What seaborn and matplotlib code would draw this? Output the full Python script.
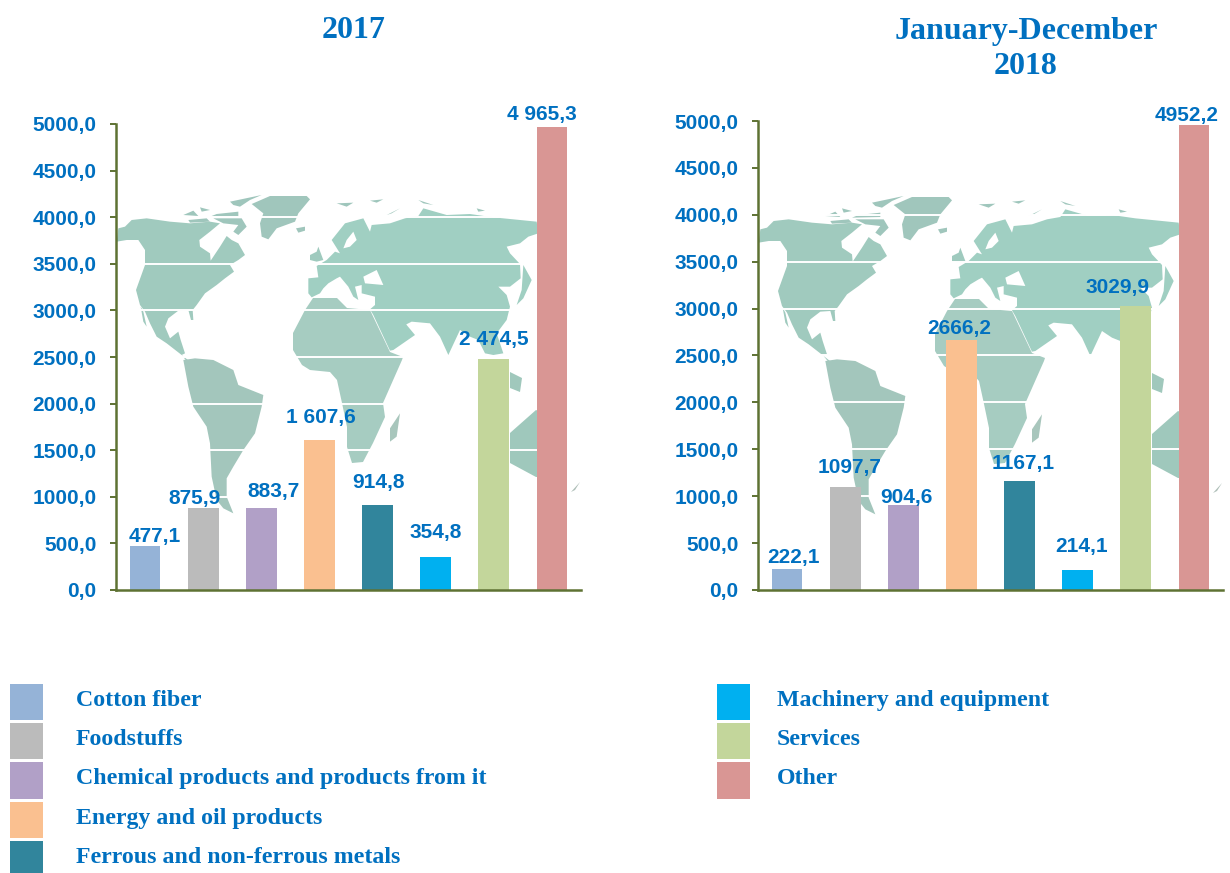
import matplotlib
matplotlib.use("Agg")
import matplotlib.pyplot as plt
from matplotlib.patches import Polygon, Rectangle
import pandas as pd
import seaborn as sns

categories = ["Cotton fiber", "Foodstuffs", "Chemical products and products from it",
              "Energy and oil products", "Ferrous and non-ferrous metals",
              "Machinery and equipment", "Services", "Other"]
colors = ["#95B3D7", "#BBBBBB", "#B1A0C7", "#FAC090", "#31859C", "#00B0F0", "#C3D69B", "#D99694"]

values_2017 = [477.1, 875.9, 883.7, 1607.6, 914.8, 354.8, 2474.5, 4965.3]
labels_2017 = ["477,1", "875,9", "883,7", "1 607,6", "914,8", "354,8", "2 474,5", "4 965,3"]
values_2018 = [222.1, 1097.7, 904.6, 2666.2, 1167.1, 214.1, 3029.9, 4952.2]
labels_2018 = ["222,1", "1097,7", "904,6", "2666,2", "1167,1", "214,1", "3029,9", "4952,2"]

y_ticks = [0, 500, 1000, 1500, 2000, 2500, 3000, 3500, 4000, 4500, 5000]
y_tick_labels = ["0,0", "500,0", "1000,0", "1500,0", "2000,0", "2500,0",
                 "3000,0", "3500,0", "4000,0", "4500,0", "5000,0"]

# label nudges from the top of each bar, pixels
nudge_2017 = [(10, 9.5), (-9, 9.5), (12, 16.5), (1, 23), (1, 22.5), (0, 24), (0, 20), (-10, 13)]
nudge_2018 = [(6, 12), (4, 20), (3, 8), (-2, 11), (4, 17.5), (4, 23), (-18, 18), (-7, 9.5)]

BLUE = "#0070C0"
OLIVE = "#5E7233"
W, H = 1230, 873

# background map outlines, traced from crops of the picture at 3x
# each entry: colour, crop origin, points in crop coordinates
crop_a = (110, 190)
crop_b = (290, 190)
crop_c = (170, 350)
land = [
    # North America
    ("#A0CABE", crop_a, [(20, 155), (25, 115), (45, 110), (65, 90), (110, 85), (180, 95), (240, 100), (300, 95),
                         (330, 100), (300, 125), (268, 150), (270, 170), (300, 190), (302, 212), (330, 170),
                         (350, 138), (365, 150), (385, 160), (405, 195), (385, 210), (360, 225), (372, 245),
                         (345, 265), (320, 285), (285, 310), (260, 345), (248, 360), (250, 390), (243, 390),
                         (235, 360), (205, 362), (175, 385), (165, 410), (180, 445), (205, 425), (212, 450),
                         (225, 490), (215, 495), (170, 460), (140, 440), (120, 400), (105, 365), (90, 345),
                         (78, 300), (105, 225), (105, 180), (85, 150), (50, 150)]),
    # Baja and the isthmus
    ("#A0CABE", crop_a, [(92, 350), (100, 365), (110, 410), (100, 395)]),
    ("#A0CABE", crop_a, [(215, 495), (240, 515), (255, 510), (250, 522), (235, 520)]),
    # arctic islands
    ("#9FC6BC", crop_a, [(220, 75), (250, 62), (265, 78)]),
    ("#9FC6BC", crop_a, [(235, 90), (290, 85), (300, 95), (240, 98)]),
    ("#9FC6BC", crop_a, [(270, 52), (300, 60), (275, 65)]),
    ("#9FC6BC", crop_a, [(320, 72), (385, 65), (385, 78), (300, 80)]),
    ("#9FC6BC", crop_a, [(310, 85), (395, 85), (410, 110), (385, 135), (370, 125), (385, 105), (340, 100)]),
    ("#9FC6BC", crop_a, [(360, 35), (455, 15), (420, 30), (390, 50), (370, 45)]),
    # Greenland, Iceland, Britain
    ("#A0C6BC", crop_a, [(425, 42), (480, 18), (590, 18), (600, 28), (565, 70), (555, 95), (500, 115),
                         (475, 148), (455, 140), (450, 100), (460, 70)]),
    ("#A0C6BC", crop_a, [(558, 115), (585, 110), (585, 122), (565, 128)]),
    ("#9FCABE", crop_a, [(600, 195), (620, 185), (625, 170), (640, 210), (620, 215), (600, 210)]),
    # Eurasia
    ("#A0CFC2", crop_b, [(55, 265), (85, 262), (80, 228), (110, 210), (135, 185), (150, 190), (125, 150),
                         (165, 100), (220, 85), (240, 125), (245, 105), (300, 100), (345, 85), (385, 78),
                         (400, 55), (470, 75), (540, 72), (610, 82), (740, 95), (745, 130), (715, 140),
                         (690, 160), (650, 170), (660, 190), (690, 222), (692, 265), (660, 290), (625, 290),
                         (650, 315), (660, 350), (650, 390), (620, 430), (640, 490), (610, 495), (585, 490),
                         (565, 450), (540, 440), (510, 420), (475, 495), (450, 440), (420, 400), (365, 395),
                         (345, 405), (320, 365), (350, 405), (375, 435), (310, 480), (300, 482), (250, 375),
                         (240, 358), (255, 345), (255, 320), (215, 310), (215, 285), (195, 290), (205, 330),
                         (190, 320), (175, 290), (150, 260), (140, 265), (115, 280), (100, 295), (90, 310),
                         (65, 322), (55, 310)]),
    # Japan and Siberian islands
    ("#A0CFC2", crop_b, [(700, 225), (725, 270), (700, 325), (680, 345), (695, 300)]),
    ("#9FC6BC", crop_b, [(140, 40), (190, 38), (170, 50)]),
    ("#9FC6BC", crop_b, [(240, 32), (280, 28), (260, 38)]),
    ("#9FC6BC", crop_b, [(385, 30), (430, 45), (400, 40)]),
    ("#9FC6BC", crop_b, [(290, 75), (330, 55), (305, 70)]),
    ("#9FC6BC", crop_b, [(560, 55), (585, 62), (565, 65)]),
    # South America
    ("#A3C6BC", crop_c, [(40, 30), (75, 25), (130, 30), (190, 60), (205, 105), (280, 135), (275, 170), (255, 250),
                         (220, 300), (190, 350), (170, 385), (170, 440), (190, 490), (160, 475), (140, 450),
                         (125, 380), (120, 280), (110, 230), (70, 170), (55, 110)]),
    # Madagascar
    ("#A8C6BC", crop_c, [(690, 190), (680, 260), (660, 275), (660, 235)]),
    # Africa
    ("#A6CCC1", (0, 0), [(305, 310), (313, 298), (337, 298), (347, 308), (370, 310), (390, 352), (403, 357),
                         (402, 360), (383, 403), (385, 417), (373, 443), (363, 462), (352, 463), (347, 447),
                         (347, 427), (342, 403), (337, 380), (330, 372), (310, 370), (302, 365), (293, 350),
                         (293, 333)]),
    # Australia, New Zealand, Indonesia
    ("#9FC8BC", (0, 0), [(510, 433), (536, 410), (552, 417), (552, 477), (536, 477), (510, 463)]),
    ("#AEBFB8", (0, 0), [(571, 492), (580, 482), (575, 490)]),
    ("#A0C8BC", (0, 0), [(479, 370), (494, 377), (498, 383), (483, 377)]),
    ("#A0C8BC", (0, 0), [(510, 372), (522, 378), (520, 392), (510, 388)]),
]
holes = [
    (crop_b, [(220, 260), (260, 240), (280, 285), (225, 280)]),
    (crop_b, [(160, 175), (170, 150), (190, 125), (200, 150), (180, 170)]),
]

sns.set_style("white")
plt.rcParams["font.family"] = ["Liberation Sans", "DejaVu Sans"]

fig = plt.figure(figsize=(W / 100, H / 100), dpi=100)

# full-figure layer in pixels: map, titles and legend
bg = fig.add_axes([0, 0, 1, 1], zorder=0)
bg.set_xlim(0, W)
bg.set_ylim(H, 0)
bg.axis("off")


def to_pixels(origin, shape, dx, dy):
    if origin == (0, 0):
        return [(x + dx, y + dy) for x, y in shape]
    return [(origin[0] + x / 3 + dx, origin[1] + y / 3 + dy) for x, y in shape]


def draw_map(dx, dy):
    for color, origin, shape in land:
        bg.add_patch(Polygon(to_pixels(origin, shape, dx, dy), closed=True, facecolor=color, edgecolor="none"))
    for origin, shape in holes:
        bg.add_patch(Polygon(to_pixels(origin, shape, dx, dy), closed=True, facecolor="white", edgecolor="none"))


draw_map(0, 0)
draw_map(642, 1)


def draw_chart(left, top, values, labels, nudges):
    right, bottom = left + 465, 590
    ax = fig.add_axes([left / W, 1 - bottom / H, (right - left) / W, (bottom - top) / H], zorder=1)
    ax.patch.set_alpha(0)
    df = pd.DataFrame({"Category": categories, "Value": values})
    sns.barplot(data=df, x="Category", y="Value", hue="Category", order=categories,
                hue_order=categories, palette=colors, width=0.53, saturation=1,
                dodge=False, legend=False, linewidth=0, ax=ax)
    ax.set_xlim(-0.5, 7.5)
    ax.set_ylim(0, 5000)
    ax.set_xlabel("")
    ax.set_ylabel("")
    ax.set_xticks([])
    ax.set_yticks(y_ticks)
    ax.set_yticklabels(y_tick_labels, fontsize=15, fontweight="bold", color=BLUE)
    ax.tick_params(axis="y", left=True, length=4.5, width=1.4, color=OLIVE, pad=9.5)
    ax.set_axisbelow(True)
    ax.grid(axis="y", color="white", linewidth=1.4)
    ax.grid(axis="x", visible=False)
    sns.despine(ax=ax)
    for side in ["left", "bottom"]:
        ax.spines[side].set_color(OLIVE)
        ax.spines[side].set_linewidth(1.8)
    for i, (value, text, nudge) in enumerate(zip(values, labels, nudges)):
        ax.annotate(text, (i, value), xytext=(nudge[0] * 0.72, nudge[1] * 0.72),
                    textcoords="offset points", ha="center", va="center",
                    fontsize=15, fontweight="bold", color=BLUE)


draw_chart(116, 124, values_2017, labels_2017, nudge_2017)
draw_chart(758, 121, values_2018, labels_2018, nudge_2018)

bg.text(354, 30, "2017", ha="center", va="center", color=BLUE, fontsize=23,
        fontweight="bold", family="Liberation Serif")
bg.text(1026, 49, "January-December\n2018", ha="center", va="center", color=BLUE, fontsize=23,
        fontweight="bold", family="Liberation Serif", linespacing=1.27)

# legend, two columns
rows = [(684, 36), (723, 36), (762, 37), (802, 36), (841, 32)]
for i, name in enumerate(categories):
    col_x, text_x = (10, 76) if i < 5 else (717, 777)
    row_y, row_h = rows[i if i < 5 else i - 5]
    bg.add_patch(Rectangle((col_x, row_y), 33, row_h, facecolor=colors[i], edgecolor="none"))
    bg.text(text_x, row_y + 16.5, name, ha="left", va="center", color=BLUE, fontsize=17.2,
            fontweight="bold", family="Liberation Serif")

fig.savefig("out.png", dpi=100)
